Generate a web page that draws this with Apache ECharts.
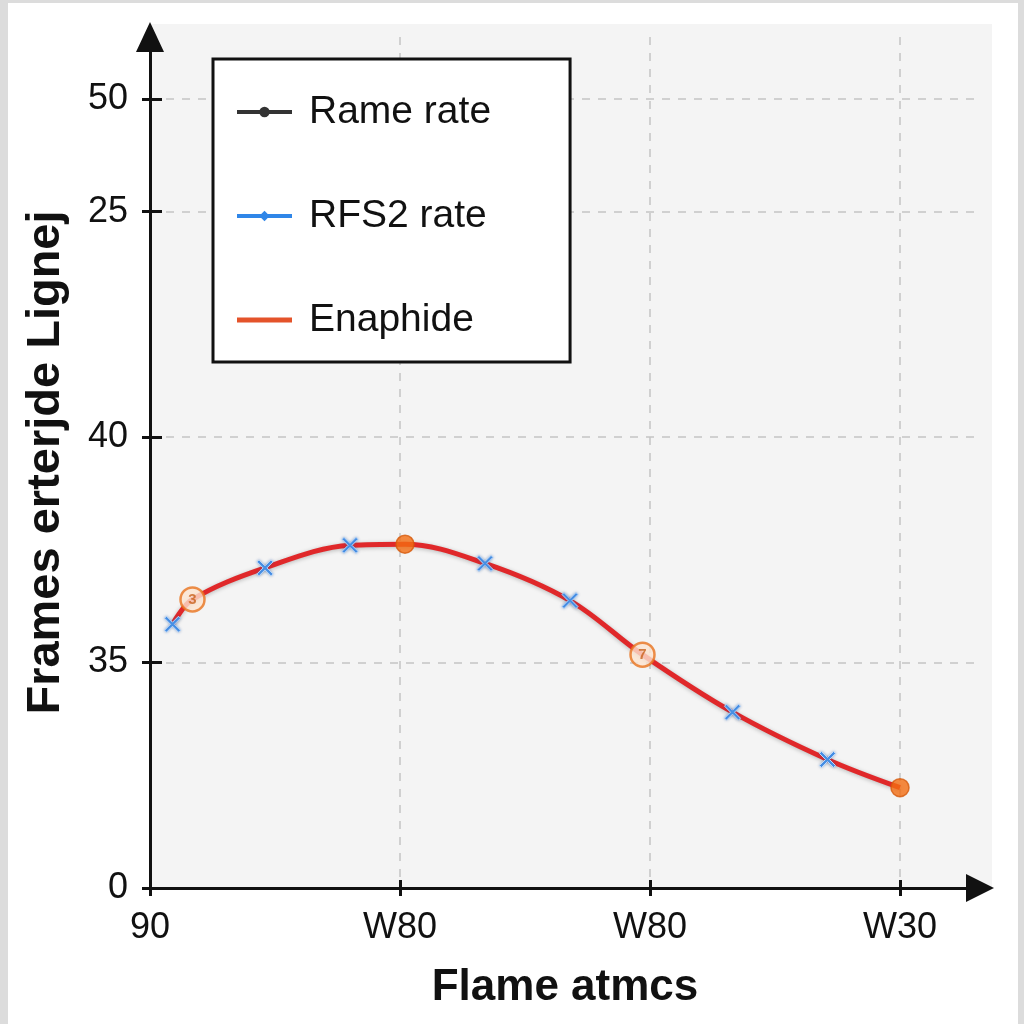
<!DOCTYPE html>
<html>
<head>
<meta charset="utf-8">
<script src="https://cdn.jsdelivr.net/npm/echarts@6/dist/echarts.min.js"></script>
<style>
html,body{margin:0;padding:0;background:#dcdcdc;}
#chart{width:1024px;height:1024px;}
</style>
</head>
<body>
<div id="chart"></div>
<script>
// ---- data (in axis units) ----
const xTickValues = [0, 1, 2, 3];
const xTickLabels = ['90', 'W80', 'W80', 'W30'];
const yTickValues = [0, 2, 4, 6, 7];
const yTickLabels = ['0', '35', '40', '25', '50'];

const rfs2X = [0.09, 0.46, 0.80, 1.34, 1.68, 2.33, 2.71];
const rfs2Y = [2.34, 2.84, 3.04, 2.88, 2.55, 1.56, 1.14];

const enaphideX = [0.09, 0.17, 0.46, 0.80, 1.02, 1.34, 1.68, 1.97, 2.33, 2.71, 3.00];
const enaphideY = [2.34, 2.56, 2.84, 3.04, 3.05, 2.88, 2.55, 2.07, 1.56, 1.14, 0.89];

const ringX = [0.17, 1.97];
const ringY = [2.56, 2.07];
const ringText = ['3', '7'];

const dotX = [1.02, 3.00];
const dotY = [3.05, 0.89];

const legendNames = ['Rame rate', 'RFS2 rate', 'Enaphide'];

// ---- chart ----
const xPath = 'path://M0,2 L2,0 L8,6 L14,0 L16,2 L10,8 L16,14 L14,16 L8,10 L2,16 L0,14 L6,8 Z';
const font = 'Liberation Sans, Arial, sans-serif';

function yLabel(v) {
  const i = yTickValues.indexOf(Math.round(v * 1000) / 1000);
  return i >= 0 ? yTickLabels[i] : '';
}
function xLabel(v) {
  const i = xTickValues.indexOf(Math.round(v * 1000) / 1000);
  return i >= 0 ? xTickLabels[i] : '';
}

const chart = echarts.init(document.getElementById('chart'), null, {renderer: 'canvas'});

const gridLine = {show: true, lineStyle: {color: '#c4c4c4', width: 1.5, type: [8, 8]}};

const option = {
  backgroundColor: '#dcdcdc',
  animation: false,
  graphic: [
    {type: 'rect', z: -20, shape: {x: 8, y: 3, width: 1010, height: 1021}, style: {fill: '#ffffff'}},
    {type: 'rect', z: -19, shape: {x: 150, y: 24, width: 842, height: 864}, style: {fill: '#f4f4f4'}}
  ],
  grid: {left: 150, right: 44, top: 37, bottom: 136, containLabel: false},
  legend: {
    orient: 'vertical',
    left: 213, top: 59,
    padding: [33, 79, 22, 22],
    backgroundColor: '#ffffff',
    borderColor: '#111111',
    borderWidth: 3,
    borderRadius: 0,
    itemWidth: 55,
    itemHeight: 13,
    itemGap: 64,
    textStyle: {fontFamily: font, fontSize: 39, color: '#111111', lineHeight: 40, padding: [0, 0, 0, 12]},
    data: [
      {name: legendNames[0], lineStyle: {width: 4, color: '#333333'}},
      {name: legendNames[1], lineStyle: {opacity: 1, width: 4, color: '#2f86e8'}},
      {name: legendNames[2], icon: 'path://M0,0 L55,0 L55,5 L0,5 Z'}
    ]
  },
  xAxis: [
    {
      type: 'value', min: 0, max: 3.32, interval: 1,
      name: 'Flame atmcs', nameLocation: 'middle', nameGap: 78,
      nameTextStyle: {fontFamily: font, fontSize: 44, fontWeight: 'bold', color: '#111111'},
      axisLine: {show: true, symbol: ['none', 'triangle'], symbolSize: [28, 28], lineStyle: {color: '#111111', width: 3}},
      axisTick: {show: true, length: 8, lineStyle: {color: '#111111', width: 3}, customValues: xTickValues},
      axisLabel: {show: true, margin: 22, fontFamily: font, fontSize: 36, color: '#111111', formatter: xLabel, customValues: xTickValues},
      splitLine: gridLine
    },
    {
      type: 'value', min: 0, max: 3.32, interval: 1, position: 'bottom',
      axisLine: {show: false},
      axisTick: {show: true, inside: true, length: 8, lineStyle: {color: '#111111', width: 3}, customValues: xTickValues},
      axisLabel: {show: false},
      splitLine: {show: false}
    }
  ],
  yAxis: [
    {
      type: 'value', min: 0, max: 7.55, interval: 1,
      name: 'Frames erterjde Lignej', nameLocation: 'middle', nameGap: 80,
      nameTextStyle: {fontFamily: font, fontSize: 47, fontWeight: 'bold', color: '#111111'},
      axisLine: {show: true, symbol: ['none', 'triangle'], symbolSize: [28, 30], lineStyle: {color: '#111111', width: 3}},
      axisTick: {show: true, length: 8, lineStyle: {color: '#111111', width: 3}, customValues: yTickValues},
      axisLabel: {show: true, margin: 22, fontFamily: font, fontSize: 36, color: '#111111', formatter: yLabel, customValues: yTickValues},
      splitLine: gridLine
    },
    {
      type: 'value', min: 0, max: 7.55, interval: 1, position: 'left',
      axisLine: {show: false},
      axisTick: {show: true, inside: true, length: 12, lineStyle: {color: '#111111', width: 3}, customValues: yTickValues.filter(v => v > 0)},
      axisLabel: {show: false},
      splitLine: {show: false}
    }
  ],
  series: [
    {
      name: legendNames[0], type: 'line', data: [],
      color: '#333333', symbol: 'circle', symbolSize: 10,
      lineStyle: {width: 4, color: '#333333'}
    },
    {
      name: legendNames[1], type: 'line', z: 4,
      color: '#2f86e8', symbol: 'diamond', symbolSize: 12,
      lineStyle: {width: 4, opacity: 0},
      data: rfs2X.map((x, i) => ({value: [x, rfs2Y[i]], symbol: xPath, symbolSize: 16,
        itemStyle: {color: '#4a94ea', borderColor: '#bcd9fb', borderWidth: 1, shadowBlur: 3, shadowColor: 'rgba(40,90,160,0.4)'}}))
    },
    {
      name: legendNames[2], type: 'line', z: 3,
      color: '#e4532a', smooth: 0.35, showSymbol: false, symbol: 'none',
      lineStyle: {width: 5, color: '#e0282a', shadowBlur: 4, shadowColor: 'rgba(0,0,0,0.25)', shadowOffsetY: 1},
      data: enaphideX.map((x, i) => [x, enaphideY[i]])
    },
    {
      name: 'rings', type: 'scatter', z: 5,
      symbol: 'circle', symbolSize: 24,
      itemStyle: {color: '#fde4d0', borderColor: '#e8731e', borderWidth: 2.5},
      label: {show: true, position: 'inside', fontFamily: font, fontSize: 15, fontWeight: 'bold', color: '#c8601c',
        formatter: p => ringText[p.dataIndex]},
      data: ringX.map((x, i) => [x, ringY[i]])
    },
    {
      name: 'dots', type: 'scatter', z: 5,
      symbol: 'circle', symbolSize: 18,
      itemStyle: {color: '#f26d12', borderColor: '#d65a0c', borderWidth: 1.5},
      data: dotX.map((x, i) => [x, dotY[i]])
    }
  ]
};
chart.setOption(option);
</script>
</body>
</html>
